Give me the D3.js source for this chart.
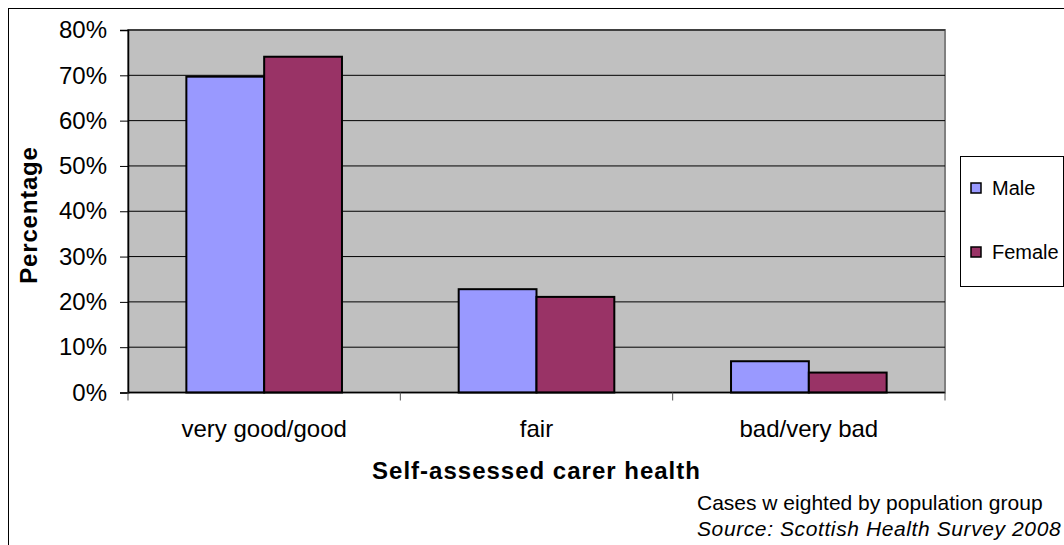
<!DOCTYPE html>
<html>
<head>
<meta charset="utf-8">
<script src="https://cdn.jsdelivr.net/npm/d3@7"></script>
<style>
  html, body { margin: 0; padding: 0; background: #fff; }
  svg { display: block; font-family: Arial, "Liberation Sans", sans-serif; }
</style>
</head>
<body>
<svg width="1064" height="545"></svg>
<script>
 const categories = ["very good/good", "fair", "bad/very bad"];
 const series = ["Male", "Female"];
 const male = [69.7, 22.8, 6.9];
 const female = [74.1, 21.1, 4.4];
 const yTicks = [0, 10, 20, 30, 40, 50, 60, 70, 80];
 const colors = ["#9999ff", "#993366"];

 const values = {Male: male, Female: female};

 const svg = d3.select("svg"),
   plotLeft = 128, plotRight = 945, plotTop = 30, plotBottom = 392.5;

 // outer chart frame, runs off the right and bottom edge
 svg.append("rect")
   .attr("x", 8.5).attr("y", 8.5)
   .attr("width", 1200).attr("height", 700)
   .attr("fill", "#fff")
   .attr("stroke", "#000");

 const x = d3.scaleBand()
   .domain(categories)
   .range([plotLeft, plotRight]);

 // excel gap width 150%: two bars plus 1.5 bar of gap per category
 const barw = x.bandwidth() / 3.5;
 const x1 = d3.scaleBand()
   .domain(series)
   .range([barw * 0.75, x.bandwidth() - barw * 0.75]);

 const y = d3.scaleLinear()
   .domain([0, 80])
   .range([plotBottom, plotTop]);

 svg.append("rect")
   .attr("x", plotLeft).attr("y", plotTop)
   .attr("width", plotRight - plotLeft).attr("height", plotBottom - plotTop)
   .attr("fill", "#c0c0c0")
   .attr("stroke", "#808080")
   .attr("stroke-width", 2);

 // gridlines
 svg.append("g")
   .selectAll("line")
   .data(yTicks)
   .join("line")
     .attr("x1", plotLeft).attr("x2", plotRight)
     .attr("y1", d => y(d)).attr("y2", d => y(d))
     .attr("stroke", "#000")
     .attr("stroke-width", 1);

 // bars
 const groups = svg.append("g")
   .selectAll("g")
   .data(categories)
   .join("g")
     .attr("transform", d => `translate(${x(d)},0)`);

 groups.selectAll("rect")
   .data((d, i) => series.map(s => ({s, v: values[s][i]})))
   .join("rect")
     .attr("x", d => x1(d.s))
     .attr("y", d => y(d.v))
     .attr("width", x1.bandwidth())
     .attr("height", d => y(0) - y(d.v))
     .attr("fill", d => colors[series.indexOf(d.s)])
     .attr("stroke", "#000")
     .attr("stroke-width", 2);

 // y axis
 const yAxis = svg.append("g")
   .attr("transform", `translate(${plotLeft},0)`)
   .call(d3.axisLeft(y).tickValues(yTicks).tickSize(8).tickPadding(13).tickFormat(d => d + "%"));
 yAxis.select(".domain").attr("stroke", "#000").attr("stroke-width", 1.5);
 yAxis.selectAll(".tick line").attr("stroke", "#000");
 yAxis.selectAll("text")
   .attr("font-size", 24)
   .attr("font-family", "Arial, 'Liberation Sans', sans-serif")
   .attr("fill", "#000");

 // x axis, ticks at category boundaries
 const bounds = categories.map(c => x(c)).concat([plotRight]);
 svg.append("line")
   .attr("x1", plotLeft).attr("x2", plotRight)
   .attr("y1", plotBottom).attr("y2", plotBottom)
   .attr("stroke", "#000").attr("stroke-width", 1.5);
 svg.append("g")
   .selectAll("line")
   .data(bounds)
   .join("line")
     .attr("x1", d => d).attr("x2", d => d)
     .attr("y1", plotBottom).attr("y2", plotBottom + 8)
     .attr("stroke", "#555");

 svg.append("g")
   .selectAll("text")
   .data(categories)
   .join("text")
     .attr("x", d => x(d) + x.bandwidth() / 2)
     .attr("y", 437)
     .attr("text-anchor", "middle")
     .attr("font-size", 24)
     .text(d => d);

 // axis titles
 svg.append("text")
   .attr("x", (plotLeft + plotRight) / 2)
   .attr("y", 479)
   .attr("text-anchor", "middle")
   .attr("font-size", 24)
   .attr("font-weight", "bold")
   .attr("letter-spacing", 1)
   .text("Self-assessed carer health");

 svg.append("text")
   .attr("transform", "translate(37,215) rotate(-90)")
   .attr("text-anchor", "middle")
   .attr("font-size", 24)
   .attr("font-weight", "bold")
   .attr("letter-spacing", 0.8)
   .text("Percentage");

 // legend
 const legend = svg.append("g");
 legend.append("rect")
   .attr("x", 960.5).attr("y", 156.5)
   .attr("width", 103).attr("height", 130)
   .attr("fill", "#fff")
   .attr("stroke", "#000");

 const items = legend.selectAll("g")
   .data(series)
   .join("g")
     .attr("transform", (d, i) => `translate(971,${188 + i * 64})`);
 items.append("rect")
   .attr("x", 0).attr("y", -5)
   .attr("width", 10).attr("height", 10)
   .attr("fill", (d, i) => colors[i])
   .attr("stroke", "#000")
   .attr("stroke-width", 1.5);
 items.append("text")
   .attr("x", 21)
   .attr("y", 7)
   .attr("font-size", 20)
   .text(d => d);

 // notes
 svg.append("text")
   .attr("x", 697).attr("y", 510)
   .attr("font-size", 21)
   .text("Cases w eighted by population group");
 svg.append("text")
   .attr("x", 697).attr("y", 536)
   .attr("font-size", 21)
   .attr("font-style", "italic")
   .attr("letter-spacing", 0.6)
   .text("Source: Scottish Health Survey 2008");
</script>
</body>
</html>
